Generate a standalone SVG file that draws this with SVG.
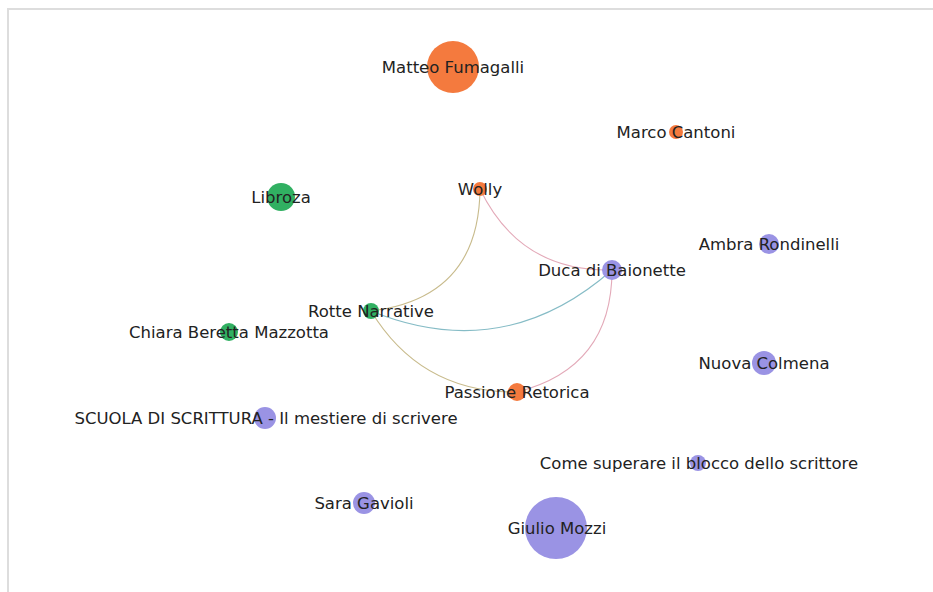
<svg xmlns="http://www.w3.org/2000/svg" width="933" height="592" viewBox="0 0 933 592">
<style>
.o{fill:#f47a3e}.g{fill:#31b062}.p{fill:#9a93e4}
text{font-family:"DejaVu Sans",Verdana,sans-serif;font-size:16.5px;fill:#222;text-anchor:middle}
.e{fill:none;stroke-width:1.1}
</style>
<rect x="0" y="0" width="933" height="592" fill="#fff"/>
<path d="M8 592V9H933" fill="none" stroke="#dddddd" stroke-width="2"/>
<g id="edges">
<path class="e" stroke="#c8bb8c" d="M480 189Q479 298 371 311"/>
<path class="e" stroke="#e3a9b8" d="M480 189Q520 272 612 270"/>
<path class="e" stroke="#86bcc6" d="M371 311Q504 365 612 270"/>
<path class="e" stroke="#c8bb8c" d="M371 311Q421 393 517 392"/>
<path class="e" stroke="#e3a9b8" d="M612 270Q612 368 517 392"/>
</g>
<g id="n-matteo"><circle class="o" cx="453" cy="67" r="26"/><text x="453" y="73">Matteo Fumagalli</text></g>
<g id="n-marco"><circle class="o" cx="676" cy="132" r="7"/><text x="676" y="138">Marco Cantoni</text></g>
<g id="n-wolly"><circle class="o" cx="480" cy="189" r="7"/><text x="480" y="195">Wolly</text></g>
<g id="n-libroza"><circle class="g" cx="281" cy="197" r="14"/><text x="281" y="203">Libroza</text></g>
<g id="n-ambra"><circle class="p" cx="769" cy="244" r="10"/><text x="769" y="250">Ambra Rondinelli</text></g>
<g id="n-duca"><circle class="p" cx="612" cy="270" r="10"/><text x="612" y="276">Duca di Baionette</text></g>
<g id="n-rotte"><circle class="g" cx="371" cy="311" r="8"/><text x="371" y="317">Rotte Narrative</text></g>
<g id="n-chiara"><circle class="g" cx="229" cy="332" r="9"/><text x="229" y="338">Chiara Beretta Mazzotta</text></g>
<g id="n-nuova"><circle class="p" cx="764" cy="363" r="12"/><text x="764" y="369">Nuova Colmena</text></g>
<g id="n-passione"><circle class="o" cx="517" cy="392" r="9"/><text x="517" y="398">Passione Retorica</text></g>
<g id="n-scuola"><circle class="p" cx="265" cy="418" r="11"/><text x="266" y="424">SCUOLA DI SCRITTURA - Il mestiere di scrivere</text></g>
<g id="n-come"><circle class="p" cx="698" cy="463" r="8"/><text x="699" y="469">Come superare il blocco dello scrittore</text></g>
<g id="n-sara"><circle class="p" cx="364" cy="503" r="11"/><text x="364" y="509">Sara Gavioli</text></g>
<g id="n-giulio"><circle class="p" cx="556" cy="528" r="31"/><text x="557" y="534">Giulio Mozzi</text></g>
</svg>
